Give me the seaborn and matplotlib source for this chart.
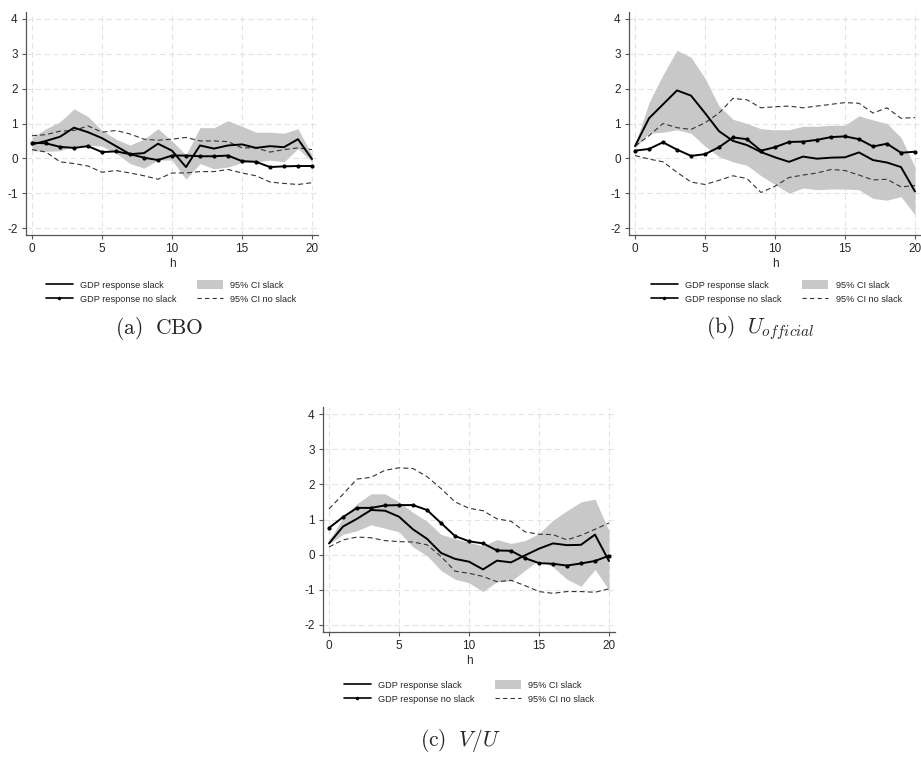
import numpy as np
import pandas as pd
import matplotlib
matplotlib.use("Agg")
import matplotlib.pyplot as plt
import seaborn as sns
from matplotlib.patches import Patch
from matplotlib.lines import Line2D

h = list(range(21))

# Panel (a) CBO
a_slack = [0.40, 0.50, 0.62, 0.88, 0.75, 0.58, 0.35, 0.12, 0.15, 0.42, 0.22, -0.25, 0.37, 0.28, 0.37, 0.40, 0.30, 0.35, 0.32, 0.55, -0.02]
a_noslack = [0.45, 0.43, 0.33, 0.30, 0.35, 0.18, 0.20, 0.12, 0.02, -0.05, 0.08, 0.08, 0.06, 0.06, 0.08, -0.08, -0.10, -0.25, -0.23, -0.22, -0.22]
a_ci_hi = [0.60, 0.85, 1.05, 1.42, 1.20, 0.80, 0.55, 0.38, 0.55, 0.85, 0.50, 0.10, 0.88, 0.88, 1.08, 0.92, 0.75, 0.75, 0.72, 0.85, 0.10]
a_ci_lo = [0.22, 0.20, 0.22, 0.35, 0.38, 0.35, 0.15, -0.15, -0.28, -0.05, -0.05, -0.60, -0.15, -0.30, -0.25, -0.12, -0.10, -0.05, -0.10, 0.28, -0.10]
a_ns_hi = [0.65, 0.68, 0.78, 0.80, 0.93, 0.75, 0.80, 0.70, 0.55, 0.52, 0.55, 0.60, 0.50, 0.50, 0.48, 0.30, 0.30, 0.18, 0.25, 0.30, 0.25]
a_ns_lo = [0.25, 0.18, -0.10, -0.15, -0.22, -0.40, -0.35, -0.42, -0.50, -0.60, -0.42, -0.42, -0.38, -0.38, -0.32, -0.42, -0.50, -0.68, -0.72, -0.75, -0.70]

# Panel (b) U_official
b_slack = [0.35, 1.15, 1.55, 1.95, 1.80, 1.30, 0.78, 0.50, 0.38, 0.18, 0.03, -0.10, 0.05, -0.01, 0.02, 0.03, 0.17, -0.05, -0.12, -0.25, -0.95]
b_noslack = [0.22, 0.27, 0.46, 0.25, 0.07, 0.12, 0.32, 0.60, 0.55, 0.22, 0.32, 0.47, 0.48, 0.53, 0.61, 0.63, 0.55, 0.34, 0.42, 0.16, 0.19]
b_ci_hi = [0.40, 1.60, 2.40, 3.10, 2.90, 2.30, 1.50, 1.12, 1.00, 0.85, 0.82, 0.82, 0.92, 0.92, 0.95, 0.95, 1.22, 1.10, 1.00, 0.60, -0.25]
b_ci_lo = [0.30, 0.72, 0.75, 0.82, 0.72, 0.35, 0.05, -0.10, -0.20, -0.50, -0.75, -1.00, -0.85, -0.90, -0.88, -0.88, -0.90, -1.15, -1.20, -1.10, -1.62]
b_ns_hi = [0.35, 0.65, 1.00, 0.88, 0.83, 1.02, 1.30, 1.72, 1.68, 1.45, 1.48, 1.50, 1.45, 1.50, 1.55, 1.60, 1.58, 1.30, 1.45, 1.15, 1.17]
b_ns_lo = [0.08, -0.02, -0.10, -0.40, -0.68, -0.75, -0.63, -0.50, -0.58, -0.98, -0.80, -0.55, -0.48, -0.42, -0.32, -0.35, -0.48, -0.62, -0.60, -0.82, -0.78]

# Panel (c) V/U
c_slack = [0.32, 0.80, 1.02, 1.27, 1.25, 1.08, 0.72, 0.45, 0.05, -0.12, -0.20, -0.42, -0.17, -0.22, -0.02, 0.17, 0.32, 0.27, 0.28, 0.57, -0.18]
c_noslack = [0.76, 1.07, 1.33, 1.33, 1.40, 1.41, 1.41, 1.27, 0.90, 0.53, 0.38, 0.32, 0.12, 0.11, -0.10, -0.24, -0.26, -0.31, -0.25, -0.18, -0.03]
c_ci_hi = [0.40, 1.05, 1.45, 1.73, 1.73, 1.50, 1.20, 0.95, 0.58, 0.45, 0.35, 0.25, 0.43, 0.32, 0.40, 0.60, 0.98, 1.25, 1.50, 1.58, 0.68]
c_ci_lo = [0.30, 0.58, 0.68, 0.85, 0.75, 0.65, 0.22, -0.03, -0.45, -0.70, -0.80, -1.05, -0.77, -0.75, -0.45, -0.15, -0.35, -0.70, -0.90, -0.42, -1.00]
c_ns_hi = [1.30, 1.72, 2.15, 2.20, 2.40, 2.47, 2.45, 2.22, 1.88, 1.50, 1.32, 1.25, 1.02, 0.95, 0.65, 0.58, 0.57, 0.42, 0.55, 0.72, 0.90]
c_ns_lo = [0.22, 0.42, 0.50, 0.48, 0.40, 0.37, 0.36, 0.28, -0.05, -0.47, -0.53, -0.62, -0.77, -0.73, -0.88, -1.05, -1.10, -1.05, -1.05, -1.07, -0.97]

x_ticks = [0, 5, 10, 15, 20]
y_ticks = [-2, -1, 0, 1, 2, 3, 4]
legend_labels = ["GDP response slack", "GDP response no slack", "95% CI slack", "95% CI no slack"]
captions = [r"$\mathrm{(a)\ \ CBO}$", r"$\mathrm{(b)}\ \ U_{official}$", r"$\mathrm{(c)}\ \ V/U$"]

sns.set_style("white")
plt.rcParams["font.family"] = ["Liberation Sans", "DejaVu Sans"]
plt.rcParams["mathtext.fontset"] = "cm"
plt.rcParams["axes.unicode_minus"] = False

W, H = 921, 762
fig = plt.figure(figsize=(W / 100, H / 100), dpi=100)

def fx(px):
    return px / W

def fy(px):
    return 1 - px / H

panels = [
    dict(slack=a_slack, noslack=a_noslack, ci_hi=a_ci_hi, ci_lo=a_ci_lo, ns_hi=a_ns_hi, ns_lo=a_ns_lo,
         left=26, top=12, bottom=235, leg_x=46, leg_y=280, cap_x=159, cap_y=328),
    dict(slack=b_slack, noslack=b_noslack, ci_hi=b_ci_hi, ci_lo=b_ci_lo, ns_hi=b_ns_hi, ns_lo=b_ns_lo,
         left=629, top=12, bottom=235, leg_x=651, leg_y=280, cap_x=760, cap_y=328),
    dict(slack=c_slack, noslack=c_noslack, ci_hi=c_ci_hi, ci_lo=c_ci_lo, ns_hi=c_ns_hi, ns_lo=c_ns_lo,
         left=323, top=407, bottom=632, leg_x=344, leg_y=680, cap_x=460, cap_y=740),
]

fill_c = "#c8c8c8"
for p in panels:
    ax = fig.add_axes([fx(p["left"]), fy(p["bottom"]), 292 / W, (p["bottom"] - p["top"]) / H])
    df = pd.DataFrame({"h": h, "slack": p["slack"], "noslack": p["noslack"],
                       "ci_hi": p["ci_hi"], "ci_lo": p["ci_lo"],
                       "ns_hi": p["ns_hi"], "ns_lo": p["ns_lo"]})
    ax.fill_between(df["h"], df["ci_lo"], df["ci_hi"], color=fill_c, linewidth=0, zorder=1)
    sns.lineplot(data=df, x="h", y="ns_hi", ax=ax, color="#333333", lw=0.8, dashes=False, zorder=2)
    sns.lineplot(data=df, x="h", y="ns_lo", ax=ax, color="#333333", lw=0.8, dashes=False, zorder=2)
    for ln in ax.lines:
        ln.set_dashes((4.5, 2.8))
    sns.lineplot(data=df, x="h", y="slack", ax=ax, color="black", lw=1.4, zorder=3)
    sns.lineplot(data=df, x="h", y="noslack", ax=ax, color="black", lw=1.4, marker="o",
                 markersize=3, markeredgewidth=0, zorder=3)
    ax.set_xlim(-0.43, 20.43)
    ax.set_ylim(-2.2, 4.2)
    ax.set_xticks(x_ticks)
    ax.set_yticks(y_ticks)
    ax.grid(True, color="#e3e3e3", linestyle=(0, (5, 3)), lw=0.8, zorder=0)
    ax.set_axisbelow(True)
    for s in ["top", "right"]:
        ax.spines[s].set_visible(False)
    for s in ["left", "bottom"]:
        ax.spines[s].set_color("#555555")
        ax.spines[s].set_linewidth(0.9)
    ax.tick_params(axis="both", direction="out", length=3, width=0.8, color="#555555",
                   labelsize=8.5, pad=3, left=True, bottom=True)
    ax.set_xlabel("h", fontsize=8.5, labelpad=2)
    ax.set_ylabel("")

    handles = [
        Line2D([0], [0], color="black", lw=1.2),
        Line2D([0], [0], color="black", lw=1.2, marker="o", markersize=2.5, markeredgewidth=0),
        Patch(facecolor=fill_c, edgecolor="none"),
        Line2D([0], [0], color="#333333", lw=0.8, dashes=(3.8, 3.0)),
    ]
    fig.legend(handles, legend_labels, ncol=2, frameon=False, fontsize=6.6,
               loc="upper left", bbox_to_anchor=(fx(p["leg_x"]), fy(p["leg_y"])),
               handlelength=2.9, handleheight=1.2, handletextpad=0.8, columnspacing=2.2,
               labelspacing=0.5, borderaxespad=0, borderpad=0)

for p, cap in zip(panels, captions):
    fig.text(fx(p["cap_x"]), fy(p["cap_y"]), cap, ha="center", va="center", fontsize=15.5)

fig.savefig("out.png", dpi=100)
